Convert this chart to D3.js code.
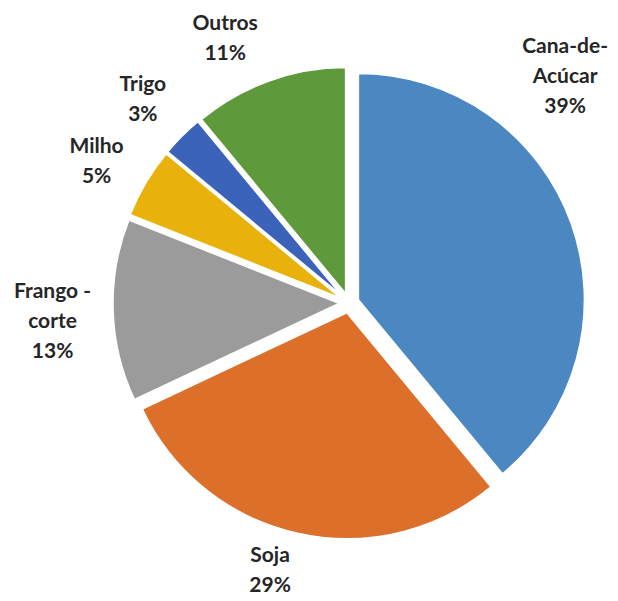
<!DOCTYPE html>
<html>
<head>
<meta charset="utf-8">
<script src="https://cdn.jsdelivr.net/npm/d3@7/dist/d3.min.js"></script>
<style>
  html, body { margin: 0; padding: 0; background: #fff; }
  svg { display: block; }
</style>
</head>
<body>
<svg id="chart" width="618" height="601"></svg>
<script>
// ---- data ----
const categories = ["Cana-de-Acúcar", "Soja", "Frango - corte", "Milho", "Trigo", "Outros"];
const values = [39, 29, 13, 5, 3, 11];
const colors = ["#4b87c1", "#dc6f29", "#9b9b9b", "#e9b10c", "#3c63ba", "#5e9a3b"];

// ---- layout ----
const W = 618, H = 601;
const cx = 349, cy = 303;
const radius = 226;
const explode = 10;
const labelR = 292;
// label placement overrides (angle in degrees clockwise from 12 o'clock, distance from centre)
const labelOverride = {
  "Cana-de-Acúcar": { angle: 43.5, dist: 314 },
  "Soja": { angle: 196.5, dist: 278 },
  "Frango - corte": { angle: 266.5, dist: 297 },
  "Milho": { angle: 299.5, dist: 290 },
  "Trigo": { angle: 314.7, dist: 290 },
  "Outros": { angle: 335, dist: 293 }
};

const svg = d3.select("#chart");
const g = svg.append("g").attr("transform", `translate(${cx},${cy})`);

const data = categories.map((c, i) => ({ name: c, value: values[i], color: colors[i] }));
const pie = d3.pie().sort(null).value(d => d.value).startAngle(0).endAngle(2 * Math.PI);
const arcs = pie(data);
const arc = d3.arc().innerRadius(0).outerRadius(radius);

g.selectAll("path.slice")
  .data(arcs)
  .join("path")
  .attr("class", "slice")
  .attr("d", arc)
  .attr("fill", d => d.data.color)
  .attr("stroke", "#fff")
  .attr("stroke-width", 1.5)
  .attr("stroke-linejoin", "round")
  .attr("transform", d => {
    const a = (d.startAngle + d.endAngle) / 2;
    return `translate(${explode * Math.sin(a)},${-explode * Math.cos(a)})`;
  });

const total = d3.sum(values);
const fmt = v => Math.round(v / total * 100) + "%";
const wrap = name => name.replace(/de-/, "de-\n").replace(/ - /, " -\n").split("\n");

const lineH = 30;
g.selectAll("text.lbl")
  .data(arcs)
  .join("text")
  .attr("class", "lbl")
  .attr("text-anchor", "middle")
  .attr("font-family", "Lato, 'Open Sans', sans-serif")
  .attr("font-weight", "bold")
  .attr("font-size", 21)
  .attr("fill", "#262626")
  .each(function(d) {
    const o = labelOverride[d.data.name];
    const a = o ? o.angle * Math.PI / 180 : (d.startAngle + d.endAngle) / 2;
    const r = o ? o.dist : labelR;
    const x = r * Math.sin(a), y = -r * Math.cos(a);
    const lines = wrap(d.data.name).concat([fmt(d.data.value)]);
    const t = d3.select(this);
    const y0 = y - (lines.length - 1) * lineH / 2;
    lines.forEach((ln, i) => {
      t.append("tspan").attr("x", x).attr("y", y0 + i * lineH).attr("dy", "0.35em").text(ln);
    });
  });
</script>
</body>
</html>
